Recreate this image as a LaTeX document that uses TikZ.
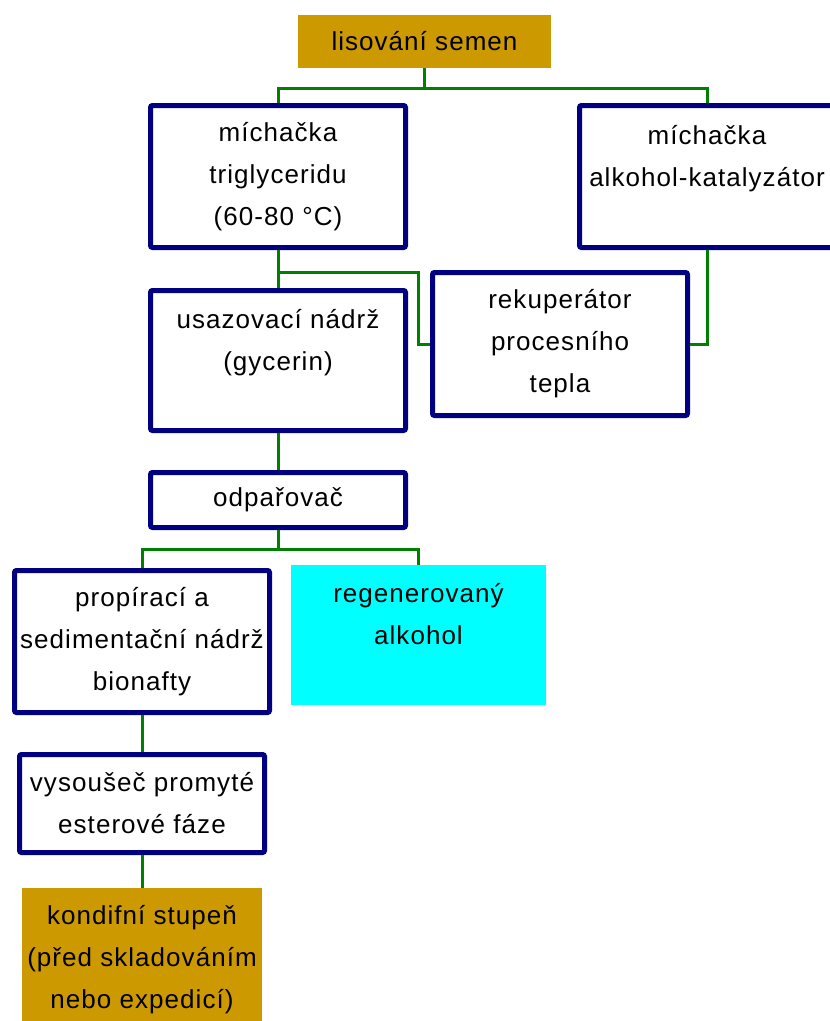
\documentclass[tikz,border=0pt]{standalone}
\usepackage{fontspec}
\setmainfont{Liberation Sans}[LetterSpace=4]
\definecolor{navyb}{RGB}{0,0,128}
\definecolor{goldb}{RGB}{204,153,0}
\definecolor{lineg}{RGB}{0,128,0}
\definecolor{cyanb}{RGB}{0,255,255}
\tikzset{
  txt/.style={align=center, inner sep=0pt, font=\fontsize{26}{42}\selectfont},
  box/.style={txt, draw=navyb, line width=5pt, rounded corners=2pt, fill=white},
  goldbox/.style={txt, fill=goldb},
  cyanbox/.style={txt, fill=cyanb},
  conn/.style={draw=lineg, line width=3pt}
}
\begin{document}
\begin{tikzpicture}[x=1pt,y=-1pt]
\useasboundingbox (0,0) rectangle (830,1021);
\clip (0,0) rectangle (830,1021);
\node[goldbox, minimum width=253pt, minimum height=53pt] (lis) at (424.5,41.5) {lisování semen};
\node[box, minimum width=255pt, minimum height=142pt] (mt) at (278,176.5) {míchačka\\triglyceridu\\(60-80 °C)};
\node[box, minimum width=255pt, minimum height=142pt] (ma) at (707,176.5) {míchačka\\alkohol-katalyzátor\\~};
\node[box, minimum width=255pt, minimum height=140pt] (us) at (278,360.5) {usazovací nádrž\\(gycerin)\\~};
\node[box, minimum width=255pt, minimum height=143pt] (rek) at (560,344) {rekuperátor\\procesního\\tepla};
\node[box, minimum width=255pt, minimum height=55pt] (odp) at (278,500) {odpařovač};
\node[box, minimum width=255pt, minimum height=142pt] (prop) at (142,641.5) {propírací a\\sedimentační nádrž\\bionafty};
\node[cyanbox, minimum width=255pt, minimum height=140pt] (reg) at (418.5,635) {regenerovaný\\alkohol\\~};
\node[box, minimum width=245pt, minimum height=98pt] (vys) at (142,803.5) {vysoušeč promyté\\esterové fáze};
\node[goldbox, minimum width=240pt, minimum height=144pt] (kon) at (142,960) {kondifní stupeň\\(před skladováním\\nebo expedicí)};
\coordinate (j1) at (278,272);
\draw[conn] (lis.south) -- ++(0,20) -| (mt.north);
\draw[conn] (lis.south) -- ++(0,20) -| (ma.north);
\draw[conn] (mt.south) -- (us.north);
\draw[conn] (j1) -- ++(140,0) |- (rek.west);
\draw[conn] (ma.south) |- (rek.east);
\draw[conn] (us.south) -- (odp.north);
\draw[conn] (odp.south) -- ++(0,19) -| (prop.north);
\draw[conn] (odp.south) -- ++(0,19) -| (reg.north);
\draw[conn] (prop.south) -- (vys.north);
\draw[conn] (vys.south) -- (kon.north);
\end{tikzpicture}
\end{document}
